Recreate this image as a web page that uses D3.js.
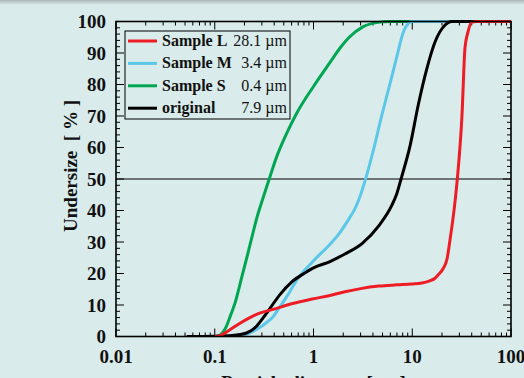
<!DOCTYPE html>
<html><head><meta charset="utf-8">
<script src="https://cdn.jsdelivr.net/npm/d3@7/dist/d3.min.js"></script>
<style>body{margin:0;background:#d9ebeb;}svg{display:block;}</style>
</head><body>
<svg id="c" width="524" height="378"></svg>
<script>
// Data (particle diameter µm, undersize %)
const seriesNames = ["Sample L", "Sample M", "Sample S", "original"];
const seriesMedians = ["28.1 µm", "3.4 µm", "0.4 µm", "7.9 µm"];
const sampleL = [[0.1,0],[0.113,0.3],[0.14,2],[0.18,4.2],[0.227,6],[0.29,7.5],[0.39,8.6],[0.6,10.4],[0.97,11.9],[1.5,13.1],[2.08,14.2],[3,15.2],[4.6,16],[7,16.4],[10,16.7],[12.5,17],[14.8,17.6],[17,18.5],[18.6,19.8],[20.5,21.5],[22.5,24.6],[24.2,31],[25.5,36],[26.6,40.5],[28.4,49],[31.9,70.3],[34.2,91.6],[36.7,96.7],[40,99.8],[45,100],[100,100]];
const sampleM = [[0.09,0],[0.15,0.2],[0.2,0.6],[0.25,1.8],[0.3,3.3],[0.34,4.6],[0.39,6.3],[0.46,9.6],[0.55,13.2],[0.676,17.9],[0.996,24],[1.47,29.3],[1.85,33],[2.3,37.5],[2.6,40.3],[2.88,43.5],[3.33,49.5],[4.0,58.6],[4.9,70],[5.9,79.8],[7.0,89],[8.1,96.5],[9.2,99.5],[10,100],[100,100]];
const sampleS = [[0.1,0],[0.113,0.5],[0.13,3],[0.143,6.3],[0.16,10.5],[0.19,19.5],[0.211,25],[0.24,32],[0.266,37.5],[0.31,44.2],[0.362,50.7],[0.424,57.1],[0.535,64.5],[0.676,70.9],[0.996,79.3],[1.47,87],[1.85,91.5],[2.3,95],[3.16,98.3],[4.7,99.8],[6,100],[100,100]];
const original = [[0.052,0],[0.1,0.1],[0.15,0.3],[0.21,1.1],[0.26,3],[0.31,6],[0.36,8.8],[0.457,13.3],[0.6,17.3],[0.8,20],[1.0,21.8],[1.47,23.8],[2.08,26.2],[3.1,29.5],[4.6,35.2],[6.2,41.6],[7.0,45.5],[7.7,50],[9.5,60.5],[11.5,73.5],[14.1,85.2],[17,93.5],[21.5,98.9],[25,100],[100,100]];
const seriesData = [sampleL, sampleM, sampleS, original];
const seriesColors = ["#ee1c25", "#5bc8ea", "#00a651", "#000000"];
const xTickValues = [0.01, 0.1, 1, 10, 100];
const xTickLabels = ["0.01", "0.1", "1", "10", "100"];
const yTickValues = [0,10,20,30,40,50,60,70,80,90,100];
const refLine = 50;

const svg = d3.select("#c");
const L = 116, R = 511, T = 21.5, B = 336.5;
const x = d3.scaleLog().domain([0.01, 100]).range([L, R]);
const y = d3.scaleLinear().domain([0, 100]).range([B, T]);

// top shadow strip
const g0 = svg.append("defs").append("linearGradient").attr("id","sh").attr("x1",0).attr("x2",0).attr("y1",0).attr("y2",1);
g0.append("stop").attr("offset","0").attr("stop-color","#aab6b6");
g0.append("stop").attr("offset","1").attr("stop-color","#d9ebeb");
svg.append("rect").attr("x",0).attr("y",0).attr("width",524).attr("height",5).attr("fill","url(#sh)");

svg.append("defs").append("clipPath").attr("id","clip").append("rect")
  .attr("x",L).attr("y",T-2).attr("width",R-L).attr("height",B-T+2);

const font = "'Liberation Serif','Times New Roman',serif";

// ticks
const minorX = [];
for (let e = -2; e < 2; e++) for (let k = 1; k <= 9; k++) minorX.push(k * Math.pow(10, e));
minorX.push(100);
const tk = svg.append("g").attr("stroke","#000").attr("stroke-width",1);
minorX.forEach(v => {
  const major = xTickValues.some(t => Math.abs(t - v) / t < 1e-9);
  const len = major ? 8 : 4;
  tk.append("line").attr("x1",x(v)).attr("x2",x(v)).attr("y1",B).attr("y2",B-len);
  tk.append("line").attr("x1",x(v)).attr("x2",x(v)).attr("y1",T).attr("y2",T+len);
});
for (let v = 0; v <= 100; v += 2) {
  const len = v % 10 === 0 ? 8 : 4;
  tk.append("line").attr("x1",L).attr("x2",L+len).attr("y1",y(v)).attr("y2",y(v));
  tk.append("line").attr("x1",R).attr("x2",R-len).attr("y1",y(v)).attr("y2",y(v));
}

// reference line
svg.append("line").attr("x1",L).attr("x2",R).attr("y1",y(refLine)).attr("y2",y(refLine))
  .attr("stroke","#000").attr("stroke-width",1);

// curves
const line = d3.line().x(d => x(d[0])).y(d => y(d[1])).curve(d3.curveMonotoneX);
const cg = svg.append("g").attr("clip-path","url(#clip)");
[2,1,3,0].forEach(i => {
  cg.append("path").datum(seriesData[i]).attr("d", line)
    .attr("fill","none").attr("stroke",seriesColors[i]).attr("stroke-width",3)
    .attr("stroke-linejoin","round");
});

// frame
svg.append("rect").attr("x",L).attr("y",T).attr("width",R-L).attr("height",B-T)
  .attr("fill","none").attr("stroke","#000").attr("stroke-width",1.6);

// tick labels
const xl = svg.append("g").attr("font-family",font).attr("font-weight","bold").attr("font-size",19).attr("fill","#111");
xTickValues.forEach((v,i) => {
  xl.append("text").attr("x",x(v)).attr("y",363).attr("text-anchor","middle").text(xTickLabels[i]);
});
yTickValues.forEach(v => {
  xl.append("text").attr("x",106).attr("y",y(v)+6.5).attr("text-anchor","end").text(v);
});

// axis titles
svg.append("text").attr("transform","translate(77,166) rotate(-90)").attr("text-anchor","middle")
  .attr("font-family",font).attr("font-weight","bold").attr("font-size",19).attr("fill","#111")
  .attr("xml:space","preserve").text("Undersize  [ % ]");
svg.append("text").attr("x",(L+R)/2).attr("y",389).attr("text-anchor","middle")
  .attr("font-family",font).attr("font-weight","bold").attr("font-size",19).attr("fill","#111")
  .text("Particle diameter  [µm]");

// legend
const lg = svg.append("g");
lg.append("rect").attr("x",125).attr("y",31).attr("width",165).attr("height",88)
  .attr("fill","#d9ebeb").attr("stroke","#000").attr("stroke-width",1);
seriesNames.forEach((n,i) => {
  const by = 46 + i * 22.4;
  lg.append("line").attr("x1",128).attr("x2",157).attr("y1",by-5).attr("y2",by-5)
    .attr("stroke",seriesColors[i]).attr("stroke-width",3);
  lg.append("text").attr("x",162).attr("y",by).attr("font-family",font).attr("font-weight","bold")
    .attr("font-size",16).attr("fill","#111").text(n);
  lg.append("text").attr("x",287).attr("y",by).attr("text-anchor","end").attr("font-family",font)
    .attr("font-size",16).attr("fill","#111").text(seriesMedians[i]);
});
</script>
</body></html>
